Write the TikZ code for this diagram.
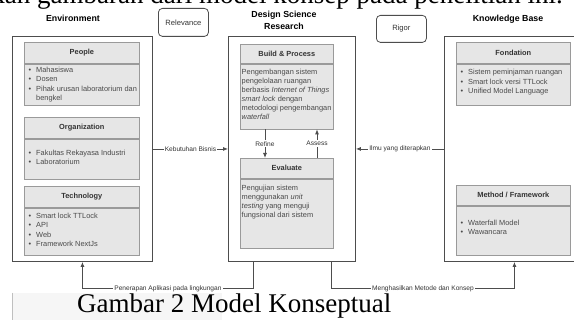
\documentclass[tikz,border=0pt]{standalone}
\usepackage{fontspec}
\setmainfont{Liberation Sans}
\newfontfamily\capfont{Liberation Serif}
\usetikzlibrary{arrows.meta,calc}
\definecolor{boxfill}{HTML}{E6E6E6}
\definecolor{boxline}{HTML}{9A9A9A}
\definecolor{outline}{HTML}{4D4D4D}
\definecolor{txt}{HTML}{333333}
\definecolor{bodytxt}{HTML}{4A4A4A}
\definecolor{pagegray}{HTML}{F6F6F6}
\begin{document}
\begin{tikzpicture}[x=1pt,y=-1pt,
 outerbox/.style={draw=outline, line width=0.9pt, fill=white, inner sep=0pt, anchor=north west},
 hdr/.style={draw=boxline, fill=boxfill, line width=0.7pt, inner sep=0pt, anchor=north west, minimum width=#1, font=\fontsize{7.4}{9}\selectfont\bfseries, text=txt},
 bodybox/.style={draw=boxline, fill=boxfill, line width=0.7pt, inner sep=0pt, anchor=north, minimum width=#1},
 items/.style={inner sep=0pt, anchor=base west, font=\fontsize{7.4}{9.4}\selectfont, text=bodytxt, align=left},
 ttl/.style={font=\fontsize{8.8}{11.5}\selectfont\bfseries, text=black, align=center, inner sep=0pt},
 tag/.style={draw=outline, rounded corners=4pt, line width=0.8pt, inner sep=0pt, anchor=north west, font=\fontsize{7.6}{9}\selectfont, text=txt},
 lbl/.style={fill=white, inner sep=1pt, font=\fontsize{6.6}{8}\selectfont, text=txt},
 arr/.style={draw=outline, line width=0.8pt, -{Latex[length=5pt,width=4pt]}},
]
\path[use as bounding box, clip] (0,0) rectangle (574,320);
\fill[white] (0,0) rectangle (574,320);
% page residue
\fill[pagegray] (12,293) rectangle (222,320);
\draw[gray!50, line width=0.5pt] (12,293) -- (12,320);
\node[anchor=base east, inner sep=0pt, font=\capfont\fontsize{27}{27}\selectfont] (toptext) at (563,4) {kan gambaran dari model konsep pada penelitian ini.};
\node[anchor=base west, inner sep=0pt, font=\capfont\fontsize{27}{27}\selectfont] (caption) at (77,313) {Gambar 2 Model Konseptual};

% titles
\node[ttl] (tenv) at (73,18) {Environment};
\node[ttl] (tdsr) at (284,20.5) {Design Science\\Research};
\node[ttl] (tkb) at (508,19) {Knowledge Base};
\node[tag, minimum width=50pt, minimum height=28pt] (rel) at (158,8) {Relevance};
\node[tag, minimum width=50pt, minimum height=27pt] (rig) at (376,15) {Rigor};

% outer boxes
\node[outerbox, minimum width=140pt, minimum height=225pt] (env) at (12,36) {};
\node[outerbox, minimum width=127pt, minimum height=225pt] (dsr) at (228,36) {};
\node[outerbox, minimum width=140pt, minimum height=225pt] (kb) at (444,36) {};

% Environment
\node[hdr=115pt, minimum height=21pt] (peopleH) at (24,42) {People};
\node[bodybox=115pt, minimum height=41pt] (peopleB) at (peopleH.south) {};
\node[items] (peopleT) at (28.5,72.5) {\begin{tabular}[t]{@{}l@{\hspace{4.9pt}}l@{}}•&Mahasiswa\\•&Dosen\\•&Pihak urusan laboratorium dan\\&bengkel\end{tabular}};

\node[hdr=115pt, minimum height=21pt] (orgH) at (24,117) {Organization};
\node[bodybox=115pt, minimum height=40pt] (orgB) at (orgH.south) {};
\node[items] (orgT) at (28.5,155.5) {\begin{tabular}[t]{@{}l@{\hspace{4.9pt}}l@{}}•&Fakultas Rekayasa Industri\\•&Laboratorium\end{tabular}};

\node[hdr=115pt, minimum height=21pt] (techH) at (24,186) {Technology};
\node[bodybox=115pt, minimum height=47pt] (techB) at (techH.south) {};
\node[items] (techT) at (28.5,218.5) {\begin{tabular}[t]{@{}l@{\hspace{4.9pt}}l@{}}•&Smart lock TTLock\\•&API\\•&Web\\•&Framework NextJs\end{tabular}};

% DSR
\node[hdr=93pt, minimum height=19pt] (bpH) at (240,44) {Build \& Process};
\node[bodybox=93pt, minimum height=65pt] (bpB) at (bpH.south) {};
\node[items, font=\fontsize{7.4}{9}\selectfont] (bpT) at (241.5,74.5) {\begin{tabular}[t]{@{}l@{}}Pengembangan sistem\\pengelolaan ruangan\\berbasis \textit{Internet of Things}\\\textit{smart lock} dengan\\metodologi pengembangan\\\textit{waterfall}\end{tabular}};

\node[hdr=93pt, minimum height=20pt] (evH) at (240,158) {Evaluate};
\node[bodybox=93pt, minimum height=69pt] (evB) at (evH.south) {};
\node[items, font=\fontsize{7.4}{9}\selectfont] (evT) at (241.5,190.5) {\begin{tabular}[t]{@{}l@{}}Pengujian sistem\\menggunakan \textit{unit}\\\textit{testing} yang menguji\\fungsional dari sistem\end{tabular}};

% KB
\node[hdr=114pt, minimum height=21pt] (fonH) at (456,42) {Fondation};
\node[bodybox=114pt, minimum height=41pt] (fonB) at (fonH.south) {};
\node[items] (fonT) at (460.5,75) {\begin{tabular}[t]{@{}l@{\hspace{4.9pt}}l@{}}•&Sistem peminjaman ruangan\\•&Smart lock versi TTLock\\•&Unified Model Language\end{tabular}};

\node[hdr=114pt, minimum height=20pt] (metH) at (456,185) {Method / Framework};
\node[bodybox=114pt, minimum height=49pt] (metB) at (metH.south) {};
\node[items] (metT) at (460.5,225.5) {\begin{tabular}[t]{@{}l@{\hspace{4.9pt}}l@{}}•&Waterfall Model\\•&Wawancara\end{tabular}};

% connectors
\coordinate (rx) at (265,0);
\coordinate (ax) at (317,0);
\draw[arr] (env.east) -- node[lbl]{Kebutuhan Bisnis} (dsr.west);
\draw[arr] (kb.west) -- node[lbl]{Ilmu yang diterapkan} (dsr.east);
\draw[arr] (bpB.south -| rx) -- node[lbl]{Refine} (evH.north -| rx);
\draw[arr] (evH.north -| ax) -- node[lbl]{Assess} (bpB.south -| ax);
\draw[arr] ([xshift=-38.5pt]dsr.south) -- ++(0,27) -| node[pos=0.25,lbl]{Penerapan Aplikasi pada lingkungan} (env.south);
\draw[arr] ([xshift=39.5pt]dsr.south) -- ++(0,27) -| node[pos=0.25,lbl]{Menghasilkan Metode dan Konsep} (kb.south);
\end{tikzpicture}
\end{document}
